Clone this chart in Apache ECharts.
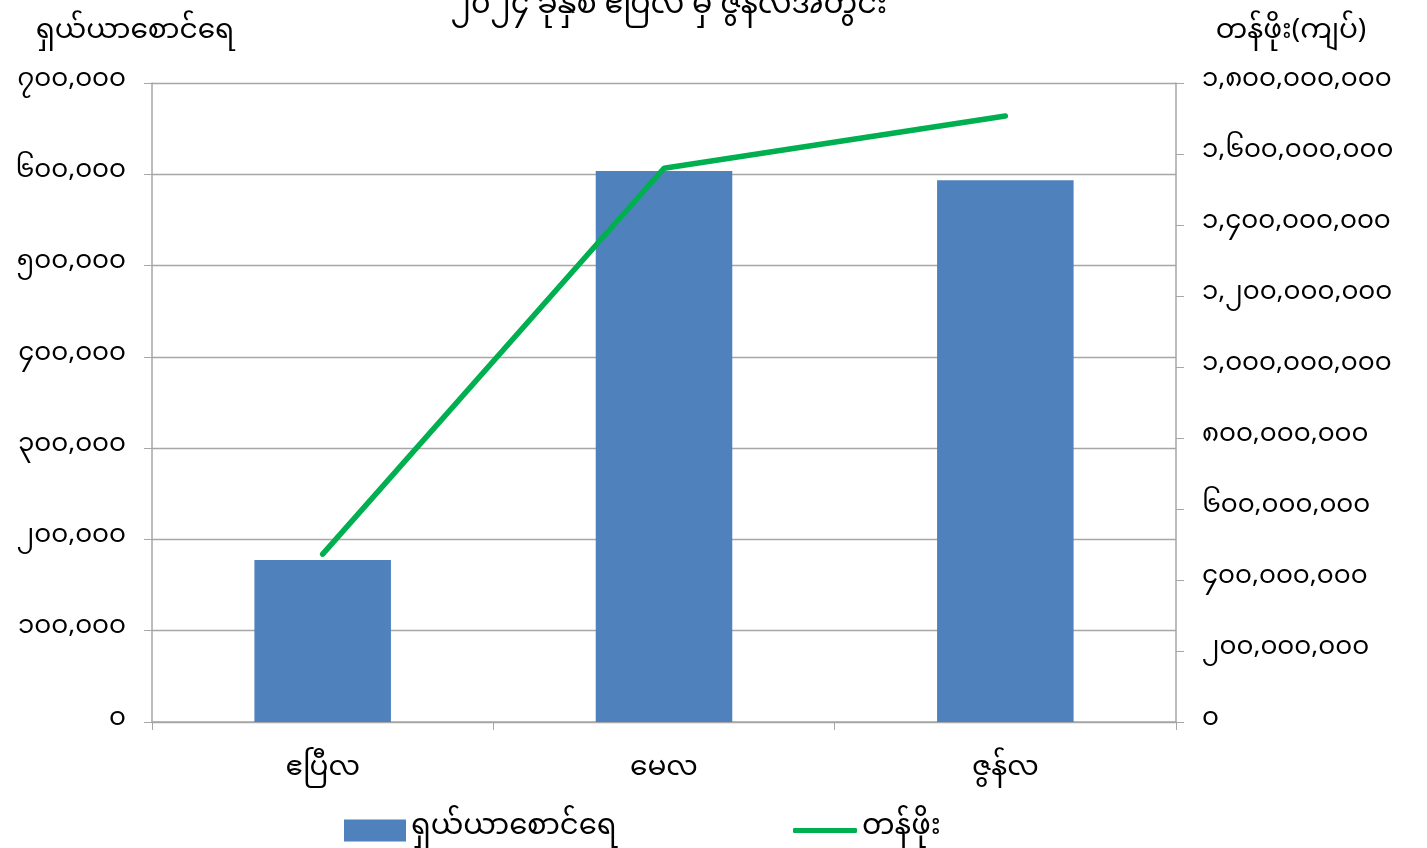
<!DOCTYPE html>
<html><head><meta charset="utf-8">
<script src="https://cdn.jsdelivr.net/npm/echarts@6/dist/echarts.min.js"></script>
<style>html,body{margin:0;padding:0;background:#fff}#c{width:1427px;height:848px}</style>
</head><body><div id="c"></div>
<script>
const categories = ['ဧပြီလ', 'မေလ', 'ဇွန်လ'];
const shareCounts = [177500, 603500, 593500];
const values = [473000000, 1560000000, 1707000000];
const titleText = '၂၀၂၄ ခုနှစ် ဧပြီလ မှ ဇွန်လအတွင်း';
const leftName = 'ရှယ်ယာစောင်ရေ';
const rightName = 'တန်ဖိုး(ကျပ်)';
const barName = 'ရှယ်ယာစောင်ရေ';
const lineName = 'တန်ဖိုး';

const MY = '၀၁၂၃၄၅၆၇၈၉';
function myNum(v){ return Math.round(v).toLocaleString('en-US').replace(/[0-9]/g, d => MY[+d]); }
const FONT = '"Noto Sans Myanmar","Noto Sans","DejaVu Sans",sans-serif';

const chart = echarts.init(document.getElementById('c'), null, {renderer:'canvas'});
chart.setOption({
  animation:false,
  backgroundColor:'#fff',
  textStyle:{fontFamily:FONT},
  title:{text:titleText, left:664, textAlign:'center', top:-10, textStyle:{fontSize:30, fontWeight:'normal', color:'#000', fontFamily:FONT}},
  grid:{left:152, right:251, top:83, bottom:126, containLabel:false},
  legend:[
    {bottom:-2, left:339, itemWidth:62, itemHeight:22, itemGap:4,
     textStyle:{fontSize:29, color:'#000', fontFamily:FONT},
     data:[{name:barName, icon:'rect'}]},
    {bottom:-2, left:788, itemWidth:64, itemHeight:5, itemGap:4,
     textStyle:{fontSize:29, color:'#000', fontFamily:FONT},
     data:[{name:lineName, icon:'roundRect'}]}
  ],
  xAxis:{type:'category', data:categories,
    axisLine:{lineStyle:{color:'#a6a6a6', width:1.5}},
    axisTick:{show:true, length:8, alignWithLabel:false, lineStyle:{color:'#a6a6a6'}},
    axisLabel:{fontSize:28, color:'#000', margin:36, fontFamily:FONT}},
  yAxis:[
    {type:'value', min:0, max:700000, interval:100000, position:'left',
     name:leftName, nameLocation:'end', nameGap:34, nameTextStyle:{fontSize:28, color:'#000', align:'center', padding:[0,34,0,0], fontFamily:FONT},
     axisLine:{show:true, lineStyle:{color:'#a6a6a6', width:1.5}},
     axisTick:{show:true, length:8, lineStyle:{color:'#a6a6a6'}},
     splitLine:{show:true, lineStyle:{color:'#a6a6a6', width:1.3}},
     axisLabel:{fontSize:26, color:'#000', margin:26, formatter:myNum, fontFamily:FONT}},
    {type:'value', min:0, max:1800000000, interval:200000000, position:'right',
     name:rightName, nameLocation:'end', nameGap:34, nameTextStyle:{fontSize:28, color:'#000', align:'center', padding:[0,0,0,230], fontFamily:FONT},
     axisLine:{show:true, lineStyle:{color:'#a6a6a6', width:1.5}},
     axisTick:{show:true, length:8, lineStyle:{color:'#a6a6a6'}},
     splitLine:{show:false},
     axisLabel:{fontSize:26, color:'#000', margin:26, formatter:myNum, fontFamily:FONT}}
  ],
  series:[
    {name:barName, type:'bar', data:shareCounts, yAxisIndex:0, barWidth:'40%',
     itemStyle:{color:'#4f81bd'}},
    {name:lineName, type:'line', data:values, yAxisIndex:1, symbol:'none',
     lineStyle:{color:'#00b050', width:5.5, cap:'round'}, itemStyle:{color:'#00b050'}}
  ]
});
</script></body></html>
